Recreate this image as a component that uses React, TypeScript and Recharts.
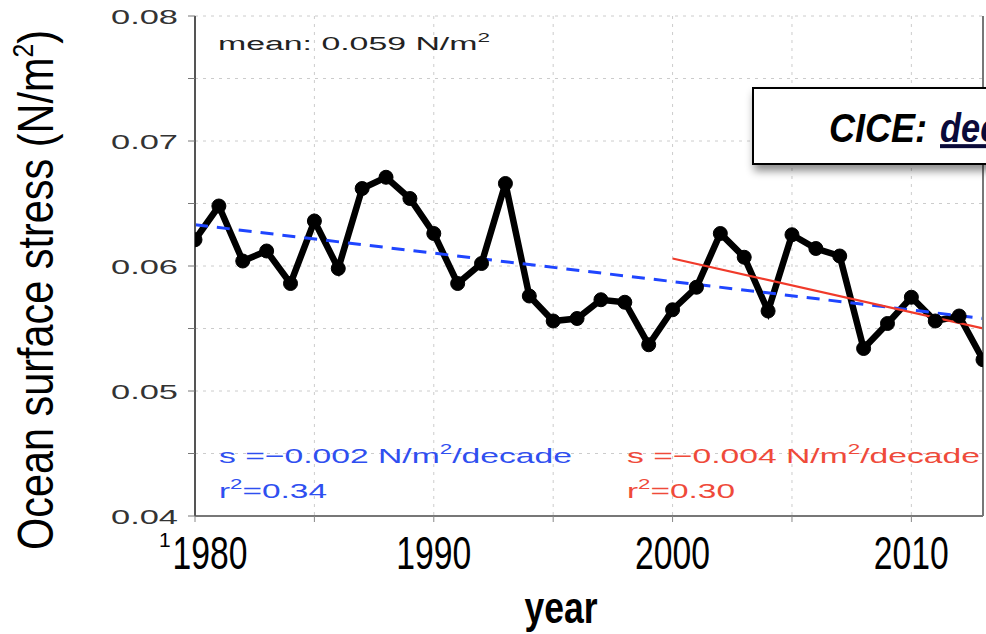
import React from 'react';
import { LineChart, Line, XAxis, YAxis, CartesianGrid } from 'recharts';

const years = [
  1980, 1981, 1982, 1983, 1984, 1985, 1986, 1987, 1988, 1989,
  1990, 1991, 1992, 1993, 1994, 1995, 1996, 1997, 1998, 1999,
  2000, 2001, 2002, 2003, 2004, 2005, 2006, 2007, 2008, 2009,
  2010, 2011, 2012, 2013,
];
const stress = [
  0.0621, 0.0648, 0.0604, 0.0612, 0.0586, 0.0636, 0.0598, 0.0662, 0.0671, 0.0654,
  0.0626, 0.0586, 0.0602, 0.0666, 0.0576, 0.0556, 0.0558, 0.0573, 0.0571, 0.0537,
  0.0565, 0.0583, 0.0626, 0.0607, 0.0564, 0.0625, 0.0614, 0.0608, 0.0534, 0.0554,
  0.0575, 0.0556, 0.0560, 0.0525,
];
const trendAllYears = [1980, 2013];
const trendAllValues = [0.0633, 0.0558];
const trendRecentYears = [2000, 2013];
const trendRecentValues = [0.0606, 0.0550];

const xTicks = [1980, 1985, 1990, 1995, 2000, 2005, 2010];
const xLabelTicks = [1980, 1990, 2000, 2010];
const yTicks = [0.04, 0.045, 0.05, 0.055, 0.06, 0.065, 0.07, 0.075, 0.08];
const yLabelTicks = ['0.04', '0.05', '0.06', '0.07', '0.08'];

const meanText = 'mean: 0.059 N/m';
const blueSlopeText = 's =\u22120.002 N/m';
const redSlopeText = 's =\u22120.004 N/m';
const blueR2 = '=0.34';
const redR2 = '=0.30';

const rows = years.map((yr, i) => {
  const a = trendAllYears.indexOf(yr);
  const b = trendRecentYears.indexOf(yr);
  return {
    year: yr,
    stress: stress[i],
    trendAll: a >= 0 ? trendAllValues[a] : null,
    trendRecent: b >= 0 ? trendRecentValues[b] : null,
  };
});

const FONT = "'Liberation Sans', Arial, Helvetica, sans-serif";

const XTick = (props: any) => {
  const { x, y, payload } = props;
  const v = payload.value;
  const idx = xLabelTicks.indexOf(v);
  if (idx < 0) return <g />;
  const shift = idx === 0 ? 15 : 0;
  return (
    <g>
      {idx === 0 && (
        <text x={x - 36} y={y + 23} fontSize={21} fontFamily={FONT} fill="#000">1</text>
      )}
      <text
        x={x + shift}
        y={y + 45}
        textAnchor="middle"
        fontSize={46}
        fontFamily={FONT}
        fill="#000"
        textLength={75}
        lengthAdjust="spacingAndGlyphs"
      >
        {String(v)}
      </text>
    </g>
  );
};

const YTick = (props: any) => {
  const { x, y, payload } = props;
  const label = Number(payload.value).toFixed(2);
  const isLabel = yLabelTicks.includes(label) && Math.abs(Number(label) - payload.value) < 1e-9;
  if (!isLabel) return <g />;
  return (
    <text
      x={x - 8}
      y={y + 8}
      textAnchor="end"
      fontSize={21}
      fontFamily={FONT}
      fill="#333"
      textLength={67}
      lengthAdjust="spacingAndGlyphs"
    >
      {label}
    </text>
  );
};

const EmptyTick = () => <g />;

export default function App() {
  return (
    <div style={{ position: 'absolute', left: 0, top: 0, width: 986, height: 634, overflow: 'hidden', background: '#fff' }}>
      <LineChart width={986} height={634} data={rows} margin={{ top: 16, right: 0, bottom: 0, left: 0 }}>
        <CartesianGrid stroke="#cccccc" strokeDasharray="3 5" strokeWidth={1} />
        <XAxis
          dataKey="year"
          type="number"
          domain={[1980, 2013]}
          ticks={xTicks}
          interval={0}
          height={118}
          tickSize={6}
          axisLine={{ stroke: '#777', strokeWidth: 2 }}
          tickLine={{ stroke: '#888' }}
          tick={<XTick />}
          allowDataOverflow
        />
        <XAxis
          xAxisId="top"
          orientation="top"
          dataKey="year"
          type="number"
          domain={[1980, 2013]}
          ticks={xTicks}
          interval={0}
          height={0}
          tickSize={6}
          axisLine={{ stroke: '#555', strokeWidth: 2 }}
          tickLine={{ stroke: '#888' }}
          tick={<EmptyTick />}
          allowDataOverflow
        />
        <YAxis
          type="number"
          domain={[0.04, 0.08]}
          ticks={yTicks}
          interval={0}
          width={195}
          tickSize={7}
          axisLine={{ stroke: '#555', strokeWidth: 2 }}
          tickLine={{ stroke: '#777' }}
          tick={<YTick />}
          allowDataOverflow
        />
        <YAxis
          yAxisId="right"
          orientation="right"
          type="number"
          domain={[0.04, 0.08]}
          ticks={yTicks}
          width={3}
          tick={false}
          axisLine={{ stroke: '#777', strokeWidth: 2 }}
          allowDataOverflow
        />
        <Line
          dataKey="stress"
          stroke="#000"
          strokeWidth={6.5}
          dot={{ r: 7, fill: '#000', stroke: '#000', strokeWidth: 1 }}
          isAnimationActive={false}
        />
        <Line
          dataKey="trendAll"
          stroke="#1f45ff"
          strokeWidth={3}
          strokeDasharray="13 9"
          dot={false}
          connectNulls
          isAnimationActive={false}
        />
        <Line
          dataKey="trendRecent"
          stroke="#f03a2a"
          strokeWidth={2.2}
          dot={false}
          connectNulls
          isAnimationActive={false}
        />
      </LineChart>
      <svg width={986} height={634} style={{ position: 'absolute', left: 0, top: 0, pointerEvents: 'none' }}>
        <defs>
          <filter id="shadow" x="-10%" y="-20%" width="130%" height="160%">
            <feDropShadow dx={2} dy={6} stdDeviation={4} floodColor="#000" floodOpacity={0.45} />
          </filter>
        </defs>
        <text
          transform="translate(53,290) rotate(-90)"
          textAnchor="middle"
          fontSize={50}
          fontFamily={FONT}
          fill="#000"
          textLength={520}
          lengthAdjust="spacingAndGlyphs"
        >
          Ocean surface stress (N/m<tspan fontSize={30} dy={-20}>2</tspan><tspan dy={20}>)</tspan>
        </text>
        <text x={218} y={50} fontSize={18} fontFamily={FONT} fill="#222" textLength={272} lengthAdjust="spacingAndGlyphs">
          {meanText}<tspan fontSize={12} dy={-8}>2</tspan>
        </text>
        <text x={219} y={463} fontSize={21} fontFamily={FONT} fill="#2f4ff0" textLength={353} lengthAdjust="spacingAndGlyphs">
          {blueSlopeText}<tspan fontSize={14} dy={-9}>2</tspan><tspan dy={9}>/decade</tspan>
        </text>
        <text x={219} y={498} fontSize={21} fontFamily={FONT} fill="#2f4ff0" textLength={108} lengthAdjust="spacingAndGlyphs">
          r<tspan fontSize={14} dy={-9}>2</tspan><tspan dy={9}>{blueR2}</tspan>
        </text>
        <text x={627} y={463} fontSize={21} fontFamily={FONT} fill="#ef4a3a" textLength={353} lengthAdjust="spacingAndGlyphs">
          {redSlopeText}<tspan fontSize={14} dy={-9}>2</tspan><tspan dy={9}>/decade</tspan>
        </text>
        <text x={627} y={498} fontSize={21} fontFamily={FONT} fill="#ef4a3a" textLength={108} lengthAdjust="spacingAndGlyphs">
          r<tspan fontSize={14} dy={-9}>2</tspan><tspan dy={9}>{redR2}</tspan>
        </text>
        <text x={561} y={623} textAnchor="middle" fontSize={44} fontWeight="bold" fontFamily={FONT} fill="#000" textLength={73} lengthAdjust="spacingAndGlyphs">
          year
        </text>
        <rect x={753} y={88} width={300} height={76} fill="#fff" stroke="#000" strokeWidth={2} filter="url(#shadow)" />
        <text x={829} y={142} fontSize={40} fontWeight="bold" fontStyle="italic" fontFamily={FONT} fill="#000" textLength={98} lengthAdjust="spacingAndGlyphs">
          CICE:
        </text>
        <text transform="translate(940,142) scale(0.86,1)" fontSize={40} fontWeight="bold" fontStyle="italic" fontFamily={FONT} fill="#0a0a3a" textDecoration="underline">
          decreasing
        </text>
      </svg>
    </div>
  );
}
